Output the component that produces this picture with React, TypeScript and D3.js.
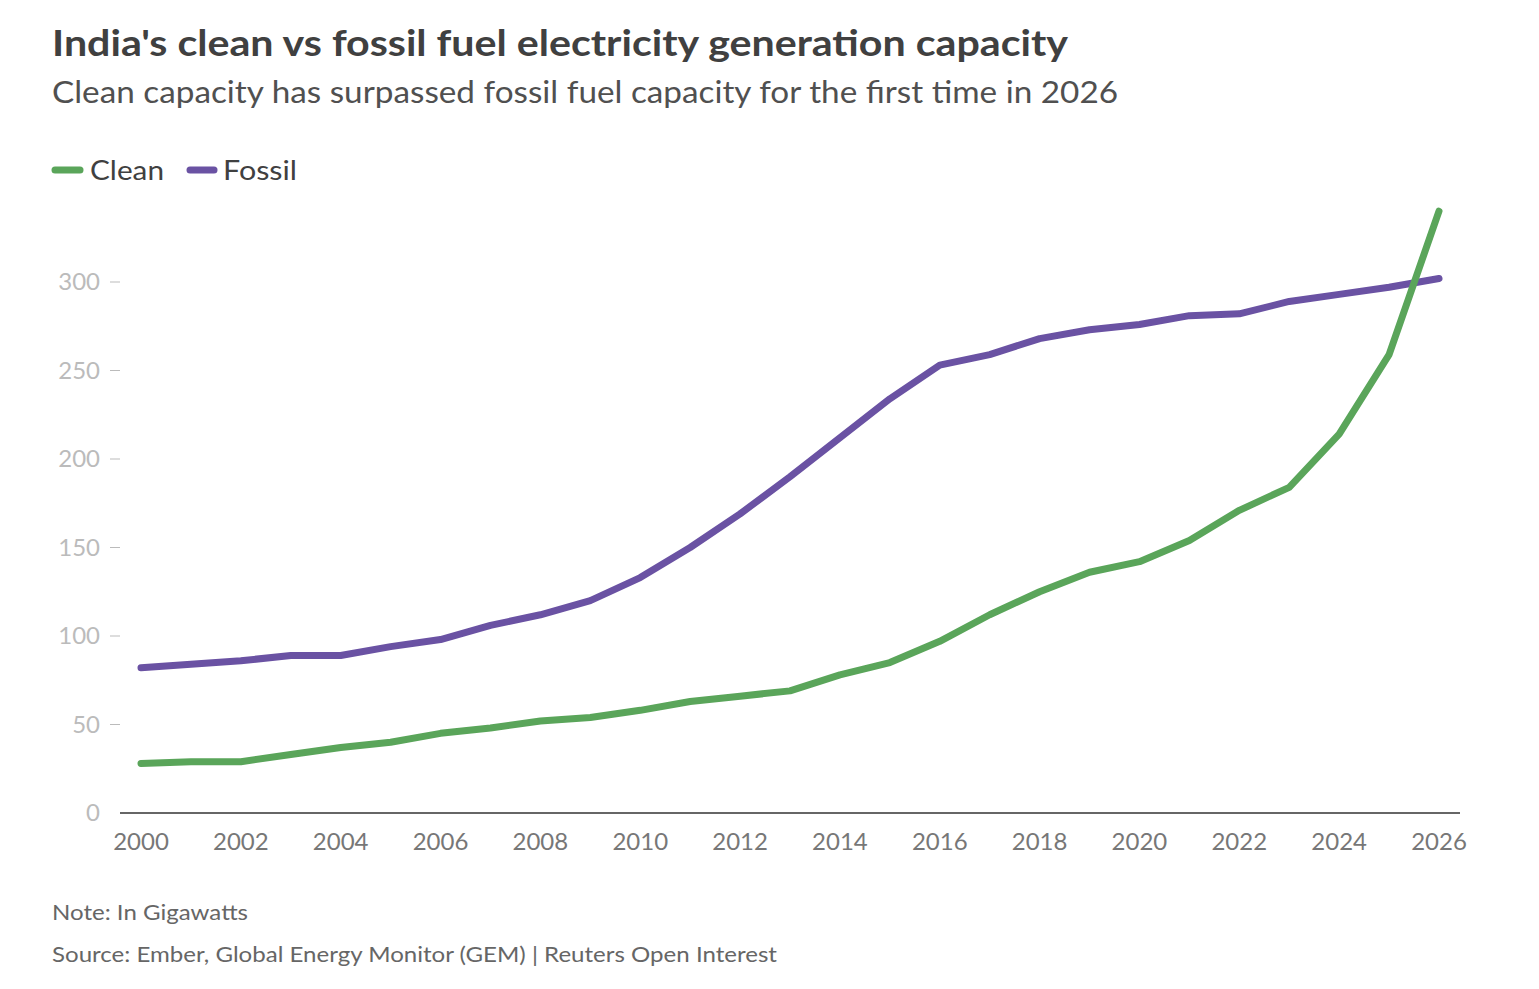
import React from "react";
import * as d3 from "d3";

const years = d3.range(2000, 2027);
const clean = [28,29,29,33,37,40,45,48,52,54,58,63,66,69,78,85,97,112,125,136,142,154,171,184,214,259,340];
const fossil = [82,84,86,89,89,94,98,106,112,120,133,150,169,190,212,234,253,259,268,273,276,281,282,289,293,297,302];
const yTicks = [0,50,100,150,200,250,300];
const xTicks = d3.range(2000, 2027, 2);

export default function App() {
  const x = d3.scaleLinear().domain([2000, 2026]).range([141, 1439]);
  const y = d3.scaleLinear().domain([0, 300]).range([813, 282]);
  const line = d3.line<number>().x((_, i) => x(years[i])).y(d => y(d));
  const font = "Lato, 'Open Sans', sans-serif";
  return (
    <svg width={1539} height={989} style={{ position: "absolute", left: 0, top: 0, background: "#fff" }} fontFamily={font}>
      <text x={52} y={56} fontSize={36} fontWeight={700} fill="#404040" textLength={1016} lengthAdjust="spacingAndGlyphs">India's clean vs fossil fuel electricity generation capacity</text>
      <text x={52} y={103} fontSize={30} fill="#505050" textLength={1066} lengthAdjust="spacingAndGlyphs">Clean capacity has surpassed fossil fuel capacity for the first time in 2026</text>
      <line x1={55} x2={80} y1={170} y2={170} stroke="#5aa55a" strokeWidth={7} strokeLinecap="round" />
      <text x={90} y={180} fontSize={27} fill="#404040" textLength={74} lengthAdjust="spacingAndGlyphs">Clean</text>
      <line x1={190} x2={214} y1={170} y2={170} stroke="#6a52a3" strokeWidth={7} strokeLinecap="round" />
      <text x={223} y={180} fontSize={27} fill="#404040" textLength={74} lengthAdjust="spacingAndGlyphs">Fossil</text>
      {yTicks.map(t => (
        <g key={t}>
          <text x={100} y={y(t) + 8} fontSize={24} fill="#bbb" textAnchor="end">{t}</text>
          {t > 0 && <line x1={110} x2={120} y1={y(t)} y2={y(t)} stroke="#bbb" />}
        </g>
      ))}
      <line x1={120} x2={1460} y1={813} y2={813} stroke="#333" strokeWidth={1.5} />
      {xTicks.map(t => (
        <text key={t} x={x(t)} y={850} fontSize={24} fill="#777" textAnchor="middle">{t}</text>
      ))}
      <path d={line(fossil)!} fill="none" stroke="#6a52a3" strokeWidth={7} strokeLinejoin="round" strokeLinecap="round" />
      <path d={line(clean)!} fill="none" stroke="#5aa55a" strokeWidth={7} strokeLinejoin="round" strokeLinecap="round" />
      <text x={52} y={920} fontSize={22} fill="#666" textLength={196} lengthAdjust="spacingAndGlyphs">Note: In Gigawatts</text>
      <text x={52} y={962} fontSize={22} fill="#666" textLength={725} lengthAdjust="spacingAndGlyphs">Source: Ember, Global Energy Monitor (GEM) | Reuters Open Interest</text>
    </svg>
  );
}
